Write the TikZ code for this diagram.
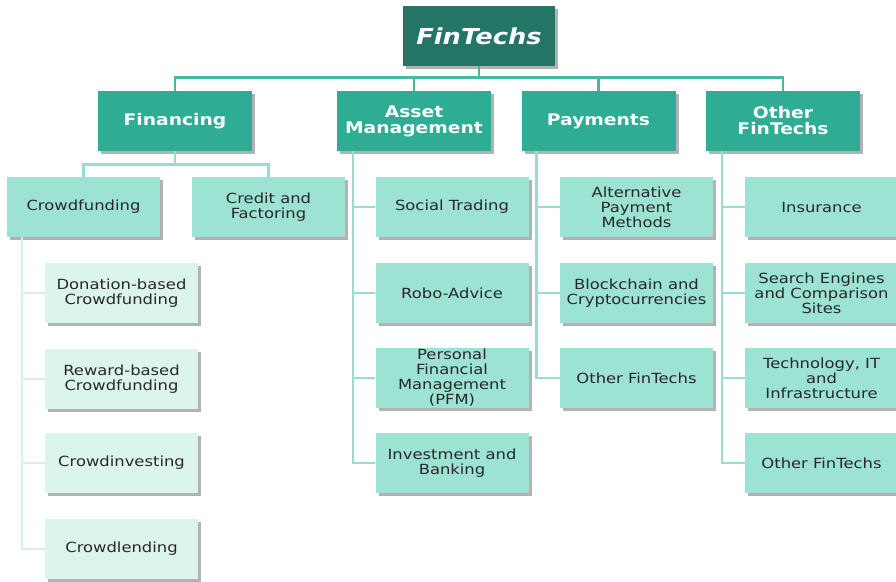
\documentclass[tikz,border=0pt]{standalone}
\usepackage{fontspec}
\setmainfont{DejaVu Sans}[FakeStretch=1.17]
\usepackage{xcolor}
\usepackage{tikz}
\usetikzlibrary{positioning,shadows}
\definecolor{ftdark}{RGB}{35,117,102}
\definecolor{ftmid}{RGB}{46,172,148}
\definecolor{ftlight}{RGB}{156,227,212}
\definecolor{ftpale}{RGB}{220,244,238}
\definecolor{ftline}{RGB}{70,185,160}
\definecolor{ftline2}{RGB}{150,222,205}
\definecolor{ftline3}{RGB}{212,241,234}
\definecolor{fttext}{RGB}{40,40,40}

\begin{document}
\begin{tikzpicture}[x=1pt, y=-1pt,
    shade/.style={drop shadow={shadow xshift=3pt, shadow yshift=-3pt, fill=black, opacity=0.3}},
    root/.style={rectangle, fill=ftdark, shade, minimum width=152pt, minimum height=60pt, inner sep=0pt, text=white, font=\fontsize{22}{24}\selectfont\bfseries\itshape},
    cat/.style={rectangle, fill=ftmid, shade, minimum width=154pt, minimum height=60pt, inner sep=0pt, align=center, text=white, font=\fontsize{16}{16}\selectfont\bfseries},
    sub/.style={rectangle, fill=ftlight, shade, minimum width=153pt, minimum height=60pt, inner sep=0pt, align=center, text=fttext, font=\fontsize{14}{15}\selectfont},
    leaf/.style={sub, fill=ftpale},
    bus/.style={draw=ftline, line width=2.6pt},
    bus2/.style={draw=ftline2, line width=2.6pt},
    bus3/.style={draw=ftline3, line width=2.6pt}
]
    \useasboundingbox (0,0) rectangle (896,581);

    % top level
    \node[root] (root) at (479,36) {FinTechs};
    \node[cat] (fin) at (175,121) {Financing};
    \node[cat] (am) at (414,121) {Asset\\Management};
    \node[cat] (pay) at (598.5,121) {Payments};
    \node[cat] (oth) at (783,121) {Other\\FinTechs};

    % financing
    \node[sub] (cf) at (83.5,207) {Crowdfunding};
    \node[sub] (credit) at (268.5,207) {Credit and\\Factoring};
    \node[leaf] (don) at (121.5,293) {Donation-based\\Crowdfunding};
    \node[leaf] (rew) at (121.5,379) {Reward-based\\Crowdfunding};
    \node[leaf] (cinv) at (121.5,463) {Crowdinvesting};
    \node[leaf] (clend) at (121.5,549) {Crowdlending};

    % asset management
    \node[sub] (st) at (452,207) {Social Trading};
    \node[sub] (robo) at (452,293) {Robo-Advice};
    \node[sub] (pfm) at (452,378) {Personal\\Financial\\Management\\(PFM)};
    \node[sub] (inv) at (452,463) {Investment and\\Banking};

    % payments
    \node[sub] (apm) at (636.5,207) {Alternative\\Payment\\Methods};
    \node[sub] (bc) at (636.5,293) {Blockchain and\\Cryptocurrencies};
    \node[sub] (pof) at (636.5,378) {Other FinTechs};

    % other fintechs
    \node[sub] (ins) at (821.5,207) {Insurance};
    \node[sub] (seng) at (821.5,293) {Search Engines\\and Comparison\\Sites};
    \node[sub] (tech) at (821.5,378) {Technology, IT\\and\\Infrastructure};
    \node[sub] (oof) at (821.5,463) {Other FinTechs};

    % connectors
    \foreach \c in {fin,am,pay,oth}
        \draw[bus] (root.south) -- ++(0,11) -| (\c.north);
    \foreach \c in {cf,credit}
        \draw[bus2] (fin.south) -- ++(0,13) -| (\c.north);
    \foreach \c in {don,rew,cinv,clend}
        \draw[bus3] ([xshift=15pt]cf.south west) |- (\c.west);
    \foreach \c in {st,robo,pfm,inv}
        \draw[bus2] ([xshift=16pt]am.south west) |- (\c.west);
    \foreach \c in {apm,bc,pof}
        \draw[bus2] ([xshift=15pt]pay.south west) |- (\c.west);
    \foreach \c in {ins,seng,tech,oof}
        \draw[bus2] ([xshift=16pt]oth.south west) |- (\c.west);
\end{tikzpicture}
\end{document}
